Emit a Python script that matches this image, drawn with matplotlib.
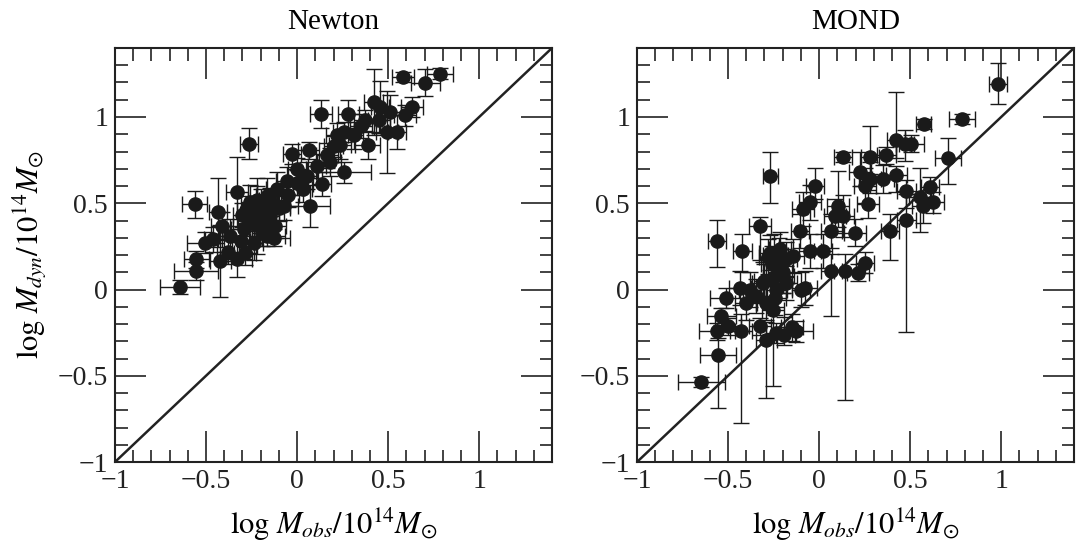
import matplotlib
matplotlib.use("Agg")
import matplotlib.pyplot as plt
from matplotlib.ticker import MultipleLocator, FixedLocator, FixedFormatter
import numpy as np

plt.rcParams['font.family'] = ['Liberation Serif', 'DejaVu Serif']
plt.rcParams['mathtext.fontset'] = 'stix'

# ---- Newton panel data: x, y, xerr, yerr ----
newton_x = [-0.644, -0.562, -0.266, -0.328, -0.436, -0.557, -0.553, -0.504, -0.421, -0.33,
            -0.412, -0.284, -0.129, -0.22, -0.257, -0.165, -0.074, -0.056, -0.028, 0.063,
            0.069, 0.136, 0.054, 0.131, 0.255, 0.237, 0.255, 0.282, 0.374, 0.387,
            0.42, 0.493, 0.548, 0.51, 0.593, 0.63, 0.58, 0.703, 0.785, 0.456,
            0.182, 0.109, 0.0, -0.11, -0.184, -0.293, -0.367, -0.165, -0.239, -0.147,
            -0.2, -0.266, 0.0, 0.164, 0.31, 0.218, -0.2, -0.23, -0.12, -0.05,
            0.03, -0.31, -0.38, 0.35, 0.45, -0.46, 0.2,
            -0.25, -0.18, -0.22, -0.15, -0.28, -0.10, -0.30, -0.19]
newton_y = [0.016, 0.493, 0.845, 0.567, 0.447, 0.107, 0.175, 0.272, 0.165, 0.175,
            0.369, 0.214, 0.30, 0.427, 0.505, 0.544, 0.485, 0.631, 0.786, 0.806,
            0.485, 0.612, 0.66, 1.019, 0.68, 0.835, 0.913, 1.019, 0.98, 0.835,
            1.087, 0.913, 0.913, 1.03, 1.01, 1.058, 1.233, 1.2, 1.252, 1.058,
            0.738, 0.718, 0.62, 0.58, 0.388, 0.35, 0.31, 0.31, 0.272, 0.427,
            0.485, 0.388, 0.7, 0.777, 0.893, 0.893, 0.36, 0.45, 0.37, 0.55,
            0.58, 0.28, 0.22, 0.95, 0.98, 0.29, 0.83,
            0.42, 0.45, 0.52, 0.52, 0.46, 0.47, 0.43, 0.33]
newton_xerr = [0.11, 0.07, 0.05, 0.06, 0.05, 0.12, 0.07, 0.10, 0.06, 0.08,
               0.06, 0.06, 0.09, 0.06, 0.05, 0.06, 0.08, 0.06, 0.05, 0.06,
               0.11, 0.05, 0.06, 0.06, 0.15, 0.06, 0.06, 0.06, 0.06, 0.07,
               0.05, 0.06, 0.05, 0.06, 0.06, 0.06, 0.06, 0.08, 0.07, 0.05,
               0.06, 0.05, 0.06, 0.06, 0.06, 0.07, 0.06, 0.10, 0.05, 0.05,
               0.06, 0.06, 0.05, 0.06, 0.05, 0.06, 0.05, 0.06, 0.06, 0.06,
               0.05, 0.05, 0.06, 0.06, 0.06, 0.05, 0.05,
               0.05, 0.06, 0.05, 0.06, 0.05, 0.06, 0.05, 0.06]
newton_yerr = [0.04, 0.08, 0.09, 0.20, 0.20, 0.05, 0.05, 0.06, 0.21, 0.10,
               0.08, 0.07, 0.05, 0.22, 0.10, 0.10, 0.08, 0.08, 0.06, 0.05,
               0.12, 0.07, 0.08, 0.08, 0.06, 0.08, 0.06, 0.08, 0.06, 0.08,
               0.19, 0.24, 0.10, 0.10, 0.06, 0.06, 0.03, 0.08, 0.03, 0.15,
               0.08, 0.07, 0.07, 0.10, 0.08, 0.10, 0.10, 0.06, 0.10, 0.08,
               0.10, 0.08, 0.06, 0.07, 0.08, 0.07, 0.07, 0.08, 0.07, 0.07,
               0.07, 0.07, 0.07, 0.07, 0.07, 0.07, 0.06,
               0.08, 0.07, 0.08, 0.07, 0.08, 0.07, 0.07, 0.08]

# ---- MOND panel data: x, y, xerr, yerr (lower, upper) ----
mond_x = [0.984, 0.786, 0.575, 0.709, 0.421, 0.47, 0.507, 0.132, 0.278, 0.37,
          0.223, 0.278, 0.352, 0.425, 0.251, 0.48, 0.608, 0.553, 0.626, 0.568,
          0.48, 0.388, 0.251, 0.214, 0.141, 0.068, 0.068, 0.086, 0.132, 0.196,
          0.269, 0.104, -0.024, -0.051, -0.088, -0.106, -0.051, 0.022, -0.079, -0.267,
          -0.326, -0.421, -0.56, -0.509, -0.537, -0.56, -0.5, -0.555, -0.646, -0.427,
          -0.326, -0.289, -0.253, -0.234, -0.125, -0.19, -0.436, -0.381, -0.308, -0.234,
          -0.179, -0.271, -0.216, -0.179, -0.234, -0.289, -0.344, -0.198, -0.143, -0.4,
          -0.28, -0.25, -0.22, -0.26, -0.20, -0.30, -0.26, -0.24, -0.15, -0.10]
mond_y = [1.194, 0.99, 0.961, 0.761, 0.864, 0.845, 0.845, 0.767, 0.767, 0.777,
          0.68, 0.64, 0.64, 0.664, 0.602, 0.573, 0.592, 0.534, 0.505, 0.485,
          0.404, 0.34, 0.155, 0.097, 0.107, 0.107, 0.34, 0.427, 0.427, 0.33,
          0.495, 0.485, 0.602, 0.505, 0.466, 0.34, 0.223, 0.223, 0.01, 0.66,
          0.369, 0.223, 0.282, -0.049, -0.155, -0.243, -0.214, -0.379, -0.538, -0.243,
          -0.214, -0.291, -0.117, -0.252, -0.243, -0.262, 0.01, 0.0, 0.039, 0.0,
          0.039, 0.214, 0.233, 0.175, 0.136, -0.078, -0.039, 0.078, 0.194, -0.078,
          0.19, 0.20, 0.20, 0.15, 0.10, 0.05, 0.06, -0.05, -0.22, 0.0]
mond_xerr = [0.05, 0.07, 0.04, 0.07, 0.05, 0.05, 0.07, 0.05, 0.05, 0.05,
             0.06, 0.06, 0.06, 0.06, 0.06, 0.05, 0.05, 0.06, 0.06, 0.06,
             0.05, 0.05, 0.05, 0.06, 0.06, 0.06, 0.06, 0.06, 0.06, 0.06,
             0.06, 0.06, 0.05, 0.06, 0.06, 0.05, 0.06, 0.05, 0.07, 0.04,
             0.06, 0.05, 0.05, 0.09, 0.08, 0.10, 0.07, 0.10, 0.13, 0.06,
             0.06, 0.06, 0.06, 0.06, 0.09, 0.06, 0.06, 0.06, 0.06, 0.06,
             0.06, 0.06, 0.06, 0.06, 0.06, 0.06, 0.06, 0.06, 0.06, 0.06,
             0.05, 0.06, 0.05, 0.06, 0.05, 0.06, 0.05, 0.06, 0.06, 0.05]
mond_yerr_lo = [0.12, 0.03, 0.03, 0.15, 0.10, 0.10, 0.05, 0.03, 0.10, 0.05,
                0.08, 0.08, 0.08, 0.10, 0.10, 0.10, 0.06, 0.20, 0.06, 0.10,
                0.65, 0.17, 0.06, 0.05, 0.75, 0.26, 0.10, 0.10, 0.12, 0.08,
                0.08, 0.12, 0.08, 0.10, 0.10, 0.10, 0.10, 0.10, 0.10, 0.16,
                0.20, 0.12, 0.15, 0.06, 0.05, 0.05, 0.05, 0.31, 0.03, 0.53,
                0.05, 0.34, 0.44, 0.06, 0.06, 0.06, 0.10, 0.10, 0.10, 0.10,
                0.10, 0.10, 0.10, 0.10, 0.10, 0.10, 0.10, 0.10, 0.10, 0.10,
                0.10, 0.12, 0.10, 0.10, 0.12, 0.10, 0.10, 0.10, 0.08, 0.10]
mond_yerr_hi = [0.12, 0.03, 0.03, 0.12, 0.28, 0.08, 0.05, 0.03, 0.18, 0.05,
                0.12, 0.10, 0.08, 0.05, 0.10, 0.06, 0.06, 0.17, 0.06, 0.05,
                0.15, 0.10, 0.06, 0.05, 0.10, 0.10, 0.10, 0.10, 0.12, 0.08,
                0.08, 0.20, 0.10, 0.10, 0.10, 0.10, 0.10, 0.10, 0.10, 0.14,
                0.05, 0.10, 0.12, 0.06, 0.05, 0.05, 0.05, 0.10, 0.03, 0.10,
                0.05, 0.10, 0.30, 0.06, 0.06, 0.10, 0.10, 0.10, 0.12, 0.10,
                0.10, 0.10, 0.10, 0.10, 0.10, 0.10, 0.10, 0.10, 0.10, 0.10,
                0.10, 0.12, 0.10, 0.10, 0.10, 0.10, 0.10, 0.10, 0.08, 0.10]

titles = ["Newton", "MOND"]
tick_vals = [-1, -0.5, 0, 0.5, 1]
tick_labels = ["\u22121", "\u22120.5", "0", "0.5", "1"]
lims = (-1, 1.4)

fig = plt.figure(figsize=(10.81, 5.47), dpi=100)
ax1 = fig.add_axes([115/1081, 1-462/547, 437/1081, 414/547])
ax2 = fig.add_axes([637/1081, 1-462/547, 437/1081, 414/547])

ek = dict(fmt='o', color='#1a1a1a', ms=9.5, ecolor='#1a1a1a', elinewidth=1.0,
          capsize=5.5, capthick=1.0, zorder=3)
ax1.errorbar(newton_x, newton_y, xerr=newton_xerr, yerr=newton_yerr, **ek)
ax2.errorbar(mond_x, mond_y, xerr=mond_xerr, yerr=[mond_yerr_lo, mond_yerr_hi], **ek)

for ax, t in zip([ax1, ax2], titles):
    ax.plot(lims, lims, color='#222222', lw=1.8, zorder=2)
    ax.set_xlim(lims)
    ax.set_ylim(lims)
    ax.xaxis.set_major_locator(FixedLocator(tick_vals))
    ax.xaxis.set_major_formatter(FixedFormatter(tick_labels))
    ax.yaxis.set_major_locator(FixedLocator(tick_vals))
    ax.yaxis.set_major_formatter(FixedFormatter(tick_labels))
    ax.xaxis.set_minor_locator(MultipleLocator(0.1))
    ax.yaxis.set_minor_locator(MultipleLocator(0.1))
    ax.tick_params(which='both', direction='in', top=True, right=True,
                   labelsize=20, width=1.2, colors='#222222', pad=5)
    ax.tick_params(which='major', length=22)
    ax.tick_params(which='minor', length=9)
    for s in ax.spines.values():
        s.set_linewidth(1.5)
        s.set_color('#222222')
    ax.set_title(t, fontsize=21, pad=14)
    ax.set_xlabel(r'$\log\,M_{obs}/10^{14}M_{\odot}$', fontsize=22, labelpad=8)

ax1.set_ylabel(r'$\log\,M_{dyn}/10^{14}M_{\odot}$', fontsize=22, labelpad=6)

fig.savefig('out.png', dpi=100)
